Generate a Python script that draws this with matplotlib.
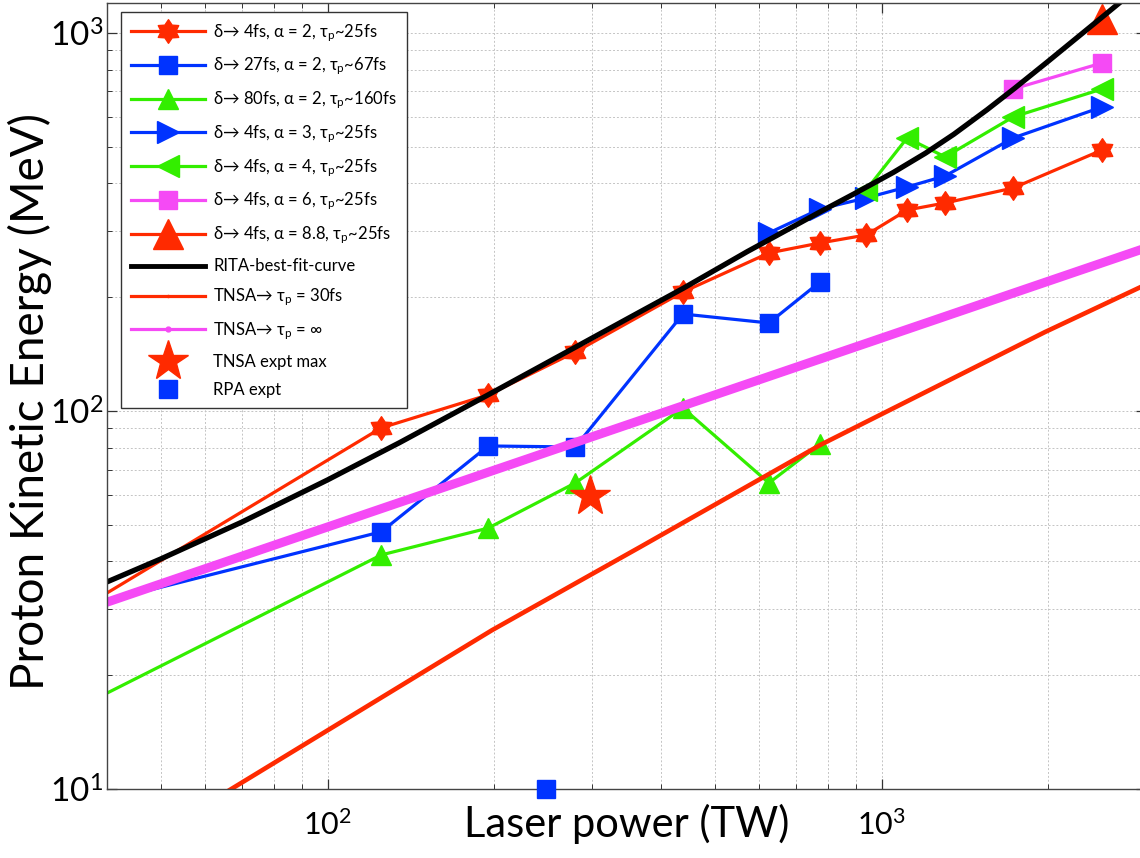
import matplotlib
matplotlib.use('Agg')
import matplotlib.pyplot as plt
from matplotlib.lines import Line2D
from matplotlib.path import Path
from matplotlib.ticker import NullFormatter

plt.rcParams['font.family'] = ['Lato', 'DejaVu Sans']
plt.rcParams['mathtext.default'] = 'regular'

# laser power (TW) and max proton energy (MeV)
# first point of the three alpha=2 runs lies left of the visible range
a2_d4_x = [30, 125, 195, 280, 438, 626, 774, 938, 1112, 1302, 1728, 2501]
a2_d4_y = [25.6, 90.2, 110.3, 143.2, 206.4, 261.8, 278.2, 292.1, 340.1, 355.0, 388.9, 490.3]

a2_d27_x = [30, 125, 195, 280, 438, 626, 774]
a2_d27_y = [28.3, 47.9, 80.8, 80.3, 180.5, 170.9, 219.4]

a2_d80_x = [30, 125, 195, 280, 438, 626, 774]
a2_d80_y = [14.5, 41.6, 49.0, 64.5, 101.8, 64.5, 81.8]

a3_x = [626, 774, 938, 1112, 1302, 1728, 2501]
a3_y = [295.8, 342.2, 366.0, 391.4, 418.5, 527.6, 637.2]

a4_x = [938, 1112, 1302, 1728, 2501]
a4_y = [384.3, 527.6, 469.9, 599.5, 711.0]

a6_x = [1728, 2501]
a6_y = [711.0, 833.0]

a88_x = [2501]
a88_y = [1089.0]

# model curves
rita_x = [40, 50, 70, 100, 135, 194, 280, 350, 438, 572, 774, 900, 1050,
          1200, 1350, 1550, 1735, 2000, 2216, 2500, 2718, 3000]
rita_y = [35.3, 40.6, 50.8, 65.7, 82.5, 109.9, 147.4, 176.3, 210.9, 263.9, 336.1, 378.0, 427.6,
          480.8, 539.5, 626.4, 712.4, 842.5, 952.8, 1101, 1218, 1370]

tnsa30_x = [50, 67.5, 198, 367, 775, 1973, 3000]
tnsa30_y = [7.7, 10.06, 26.3, 43.7, 81.3, 161.8, 216]

tnsa_inf_x = [40, 3000]
tnsa_inf_y = [31.2, 270]

# experiments
tnsa_expt_x = [298]
tnsa_expt_y = [59.6]
rpa_expt_x = [248]
rpa_expt_y = [10]

labels = [r'δ→ 4fs, α = 2, τ$_p$~25fs',
          r'δ→ 27fs, α = 2, τ$_p$~67fs',
          r'δ→ 80fs, α = 2, τ$_p$~160fs',
          r'δ→ 4fs, α = 3, τ$_p$~25fs',
          r'δ→ 4fs, α = 4, τ$_p$~25fs',
          r'δ→ 4fs, α = 6, τ$_p$~25fs',
          r'δ→ 4fs, α = 8.8, τ$_p$~25fs',
          'RITA-best-fit-curve',
          r'TNSA→ τ$_p$ = 30fs',
          r'TNSA→ τ$_p$ = ∞',
          'TNSA expt max',
          'RPA expt']

red = '#FF2A00'
blue = '#0033FF'
green = '#33EE00'
magenta = '#F54AF5'

fig = plt.figure(figsize=(11.4, 8.58), dpi=100)
ax = fig.add_axes([107/1140, 69/858, 1039/1140, 786/858])
ax.set_xscale('log')
ax.set_yscale('log')

hexagram = Path.unit_regular_star(6, innerCircle=0.62)
h1, = ax.plot(a2_d4_x, a2_d4_y, '-', color=red, lw=2.3, marker=hexagram, ms=17, mfc=red, mec=red, label=labels[0])
h2, = ax.plot(a2_d27_x, a2_d27_y, '-', color=blue, lw=2.3, marker='s', ms=13, mfc=blue, mec=blue, label=labels[1])
h3, = ax.plot(a2_d80_x, a2_d80_y, '-', color=green, lw=2.3, marker='^', ms=15, mfc=green, mec=green, label=labels[2])
h4, = ax.plot(a3_x, a3_y, '-', color=blue, lw=2.3, marker='>', ms=16, mfc=blue, mec=blue, label=labels[3])
h5, = ax.plot(a4_x, a4_y, '-', color=green, lw=2.3, marker='<', ms=16, mfc=green, mec=green, label=labels[4])
h6, = ax.plot(a6_x, a6_y, '-', color=magenta, lw=2.3, marker='s', ms=13, mfc=magenta, mec=magenta, label=labels[5])
h7, = ax.plot(a88_x, a88_y, '-', color=red, lw=2.3, marker='^', ms=22, mfc=red, mec=red, label=labels[6])

ax.plot(rita_x, rita_y, '-', color='black', lw=3.8)
ax.plot(tnsa30_x, tnsa30_y, '-', color=red, lw=3.3)
ax.plot(tnsa_inf_x, tnsa_inf_y, '-', color=magenta, lw=6.5)

h11, = ax.plot(tnsa_expt_x, tnsa_expt_y, ls='none', marker='*', ms=30, color=red, label=labels[10])
h12, = ax.plot(rpa_expt_x, rpa_expt_y, ls='none', marker='s', ms=13, color=blue, clip_on=False, zorder=5, label=labels[11])

# legend proxies for the curves (drawn thin with a dot, as in the original)
h8 = Line2D([], [], color='black', lw=3.5, marker='.', ms=3, label=labels[7])
h9 = Line2D([], [], color=red, lw=2.3, marker='.', ms=3, label=labels[8])
h10 = Line2D([], [], color=magenta, lw=2.3, marker='.', ms=7, label=labels[9])

ax.set_xlim(40, 3000)
ax.set_ylim(10, 1200)

ax.grid(True, which='both', color='#c4c4c4', ls=(0, (2, 2)), lw=0.7)
ax.set_axisbelow(True)
ax.tick_params(which='both', direction='in', top=True, right=True, color='#333333')
ax.tick_params(which='major', length=7, width=0.9)
ax.tick_params(which='minor', length=3.5, width=0.7)
ax.tick_params(axis='x', labelsize=22, pad=15)
ax.tick_params(axis='y', labelsize=24, pad=3)
ax.xaxis.set_minor_formatter(NullFormatter())
ax.yaxis.set_minor_formatter(NullFormatter())
for s in ax.spines.values():
    s.set_color('#444444')
    s.set_linewidth(1.0)

ax.set_xlabel('Laser power (TW)', fontsize=30)
ax.xaxis.set_label_coords(0.5, -0.019)
ax.set_ylabel('Proton Kinetic Energy (MeV)', fontsize=33)
ax.yaxis.set_label_coords(-0.053, 0.493)

leg = ax.legend(handles=[h1, h2, h3, h4, h5, h6, h7, h8, h9, h10, h11, h12],
                loc='upper left', bbox_to_anchor=(14/1039, 1 - 9/786), borderaxespad=0,
                fontsize=12.0, handlelength=4.45, handletextpad=0.48, labelspacing=0.73,
                borderpad=0.6, fancybox=False, framealpha=1, edgecolor='#333333')
leg.get_frame().set_linewidth(1.0)

fig.savefig('out.png', dpi=100)
